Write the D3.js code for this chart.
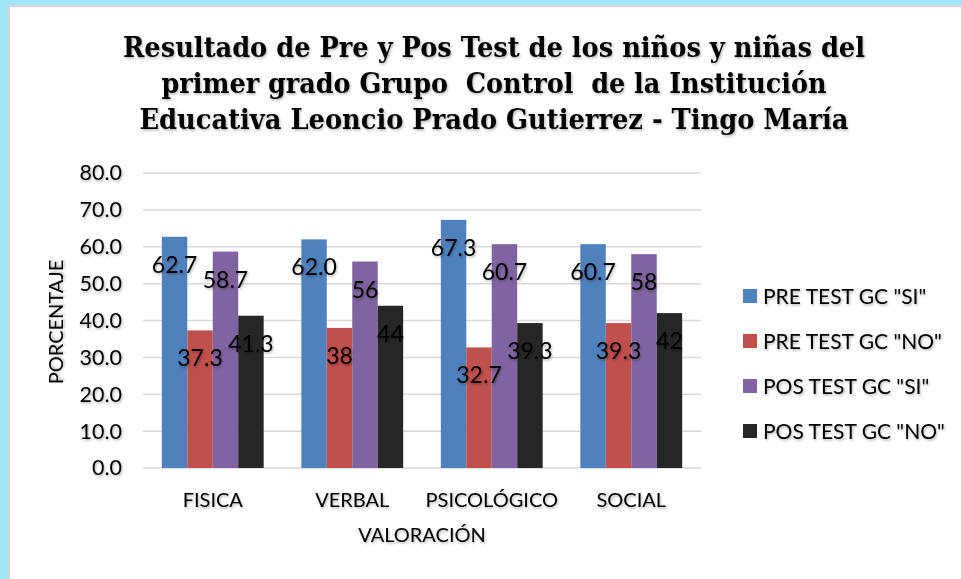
<!DOCTYPE html>
<html>
<head>
<meta charset="utf-8">
<script src="https://cdn.jsdelivr.net/npm/d3@7"></script>
<style>
  body { margin: 0; background: #fff; }
  svg { display: block; }
</style>
</head>
<body>
<div id="chart"></div>
<script>
// data
var categories = ["FISICA", "VERBAL", "PSICOLÓGICO", "SOCIAL"];
var seriesNames = ['PRE TEST GC "SI"', 'PRE TEST GC "NO"', 'POS TEST GC "SI"', 'POS TEST GC "NO"'];
var preSi = [62.7, 62.0, 67.3, 60.7];
var preNo = [37.3, 38, 32.7, 39.3];
var posSi = [58.7, 56, 60.7, 58];
var posNo = [41.3, 44, 39.3, 42];
var preSiLabels = ["62.7", "62.0", "67.3", "60.7"];
var preNoLabels = ["37.3", "38", "32.7", "39.3"];
var posSiLabels = ["58.7", "56", "60.7", "58"];
var posNoLabels = ["41.3", "44", "39.3", "42"];
var yTicks = [0, 10, 20, 30, 40, 50, 60, 70, 80];
var titleLines = [
  "Resultado de Pre y Pos Test de los niños y niñas del",
  "primer grado Grupo  Control  de la Institución",
  "Educativa Leoncio Prado Gutierrez - Tingo María"
];

var colors = ["#4F81BD", "#C0504D", "#8064A2", "#262626"];
var width = 961, height = 579;
var sans = "Lato, 'Open Sans', sans-serif";

var svg = d3.select("#chart").append("svg")
  .attr("width", width)
  .attr("height", height);

// soft shadow like the original picture
var defs = svg.append("defs");
defs.append("filter")
  .attr("id", "shadow")
  .attr("x", "-10%").attr("y", "-20%")
  .attr("width", "120%").attr("height", "150%")
  .append("feDropShadow")
  .attr("dx", 1).attr("dy", 1.5)
  .attr("stdDeviation", 1)
  .attr("flood-color", "#000")
  .attr("flood-opacity", 0.3);

// frame
svg.append("rect").attr("x", 0).attr("y", 0).attr("width", width).attr("height", height).attr("fill", "#A2E5F6");
svg.append("rect").attr("x", 8).attr("y", 5).attr("width", width - 8).attr("height", height - 5).attr("fill", "#D6D6D6");
svg.append("rect").attr("x", 10).attr("y", 7).attr("width", width - 10).attr("height", height - 7).attr("fill", "#ffffff");

// title
var titleWidths = [742, 665, 709];
var titleBase = [57, 93, 129];
svg.append("g").selectAll("text")
  .data(titleLines)
  .enter()
  .append("text")
  .attr("x", 494)
  .attr("y", function(d, i) { return titleBase[i]; })
  .attr("text-anchor", "middle")
  .style("white-space", "pre")
  .attr("font-family", "'DejaVu Serif', 'Liberation Serif', serif")
  .attr("font-weight", "bold")
  .attr("font-size", 27.5)
  .attr("fill", "#000")
  .attr("textLength", function(d, i) { return titleWidths[i]; })
  .attr("lengthAdjust", "spacingAndGlyphs")
  .attr("filter", "url(#shadow)")
  .text(function(d) { return d; });

// scales
var x0 = d3.scaleBand()
  .domain(categories)
  .range([143, 701])
  .paddingInner(0.27)
  .paddingOuter(0.135);

var x1 = d3.scaleBand()
  .domain(d3.range(seriesNames.length))
  .range([0, x0.bandwidth()]);

var y = d3.scaleLinear()
  .domain([0, 80])
  .range([468, 173]);

// gridlines
svg.append("g")
  .selectAll("line")
  .data(yTicks)
  .enter()
  .append("line")
  .attr("x1", 143)
  .attr("x2", 701)
  .attr("y1", function(d) { return y(d); })
  .attr("y2", function(d) { return y(d); })
  .attr("stroke", "#D9D9D9")
  .attr("stroke-width", 1.5);

// y axis
var yAxis = svg.append("g")
  .attr("transform", "translate(122,0)")
  .call(d3.axisLeft(y).tickValues(yTicks).tickSize(0).tickPadding(0).tickFormat(d3.format(".1f")));
yAxis.select(".domain").remove();
yAxis.selectAll("text")
  .attr("font-family", sans)
  .attr("font-size", 21.5)
  .attr("fill", "#000")
  .attr("filter", "url(#shadow)");

// x axis
var xAxis = svg.append("g")
  .attr("transform", "translate(0,468)")
  .call(d3.axisBottom(x0).tickSize(0).tickPadding(0));
xAxis.select(".domain").remove();
xAxis.selectAll("text")
  .attr("y", 39)
  .attr("dy", 0)
  .attr("font-family", sans)
  .attr("font-size", 20)
  .attr("fill", "#000")
  .attr("filter", "url(#shadow)");

// bars
var allSeries = [preSi, preNo, posSi, posNo];
var allLabels = [preSiLabels, preNoLabels, posSiLabels, posNoLabels];
var barData = [];
categories.forEach(function(c, ci) {
  allSeries.forEach(function(s, si) {
    barData.push({ cat: c, s: si, v: s[ci], label: allLabels[si][ci] });
  });
});

svg.append("g")
  .selectAll("rect")
  .data(barData)
  .enter()
  .append("rect")
  .attr("x", function(d) { return x0(d.cat) + x1(d.s); })
  .attr("y", function(d) { return y(d.v); })
  .attr("width", x1.bandwidth())
  .attr("height", function(d) { return y(0) - y(d.v); })
  .attr("fill", function(d) { return colors[d.s]; });

// data labels
svg.append("g")
  .selectAll("text")
  .data(barData)
  .enter()
  .append("text")
  .attr("x", function(d) { return x0(d.cat) + x1(d.s) + x1.bandwidth() / 2; })
  .attr("y", function(d) { return y(d.v) + 36; })
  .attr("text-anchor", "middle")
  .attr("font-family", sans)
  .attr("font-size", 23)
  .attr("fill", "#000")
  .attr("filter", "url(#shadow)")
  .text(function(d) { return d.label; });

// axis titles
svg.append("text")
  .attr("transform", "translate(63,322) rotate(-90)")
  .attr("text-anchor", "middle")
  .attr("font-family", sans)
  .attr("font-size", 20)
  .attr("fill", "#000")
  .attr("filter", "url(#shadow)")
  .text("PORCENTAJE");

svg.append("text")
  .attr("x", 422)
  .attr("y", 542)
  .attr("text-anchor", "middle")
  .attr("font-family", sans)
  .attr("font-size", 20)
  .attr("fill", "#000")
  .attr("filter", "url(#shadow)")
  .text("VALORACIÓN");

// legend
var legend = svg.append("g")
  .selectAll("g")
  .data(seriesNames)
  .enter()
  .append("g")
  .attr("transform", function(d, i) { return "translate(743," + (296 + i * 45) + ")"; });

legend.append("rect")
  .attr("x", 0)
  .attr("y", -7)
  .attr("width", 14)
  .attr("height", 14)
  .attr("fill", function(d, i) { return colors[i]; });

legend.append("text")
  .attr("x", 20)
  .attr("y", 7.5)
  .attr("font-family", sans)
  .attr("font-size", 21)
  .attr("fill", "#000")
  .attr("filter", "url(#shadow)")
  .text(function(d) { return d; });
</script>
</body>
</html>
